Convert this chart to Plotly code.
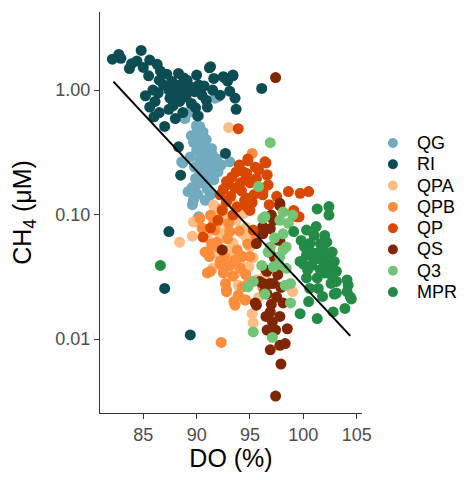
import plotly.graph_objects as go

# ---- data (DO %, CH4 uM) ----
qg_do = [89.5, 88.9, 90.0, 90.3, 89.5, 89.7, 90.2, 90.6, 91.0, 90.0, 91.3, 90.3, 91.6, 91.9, 92.0, 90.6,
         91.0, 89.9, 89.2, 90.0, 91.0, 91.3, 89.7, 88.6, 93.1, 90.6, 89.4, 90.0, 91.7, 92.0, 89.6, 90.2,
         90.0, 88.7, 90.4, 91.2, 90.8, 90.5, 89.8, 90.9, 91.4, 90.1, 90.8, 89.4, 91.6, 92.3, 90.2, 89.9,
         90.4, 91.1, 89.6, 90.7, 91.5]
qg_ch4 = [0.67, 0.59, 0.51, 0.51, 0.43, 0.38, 0.41, 0.36, 0.32, 0.33, 0.28, 0.27, 0.25, 0.28, 0.22, 0.22,
          0.195, 0.195, 0.153, 0.173, 0.16, 0.144, 0.131, 0.265, 0.265, 0.46, 0.68, 0.52, 0.86, 0.88, 0.12, 0.096,
          0.09, 0.26, 0.30, 0.23, 0.25, 0.18, 0.24, 0.40, 0.34, 0.145, 0.13, 0.29, 0.19, 0.25, 0.62, 0.44,
          0.21, 0.21, 0.165, 0.28, 0.30]

ri_do = [82.1, 82.7, 82.9, 83.7, 84.4, 84.8, 85.6, 86.3, 85.5, 86.6, 87.2, 86.5, 85.2, 85.6, 86.1, 86.5,
         86.0, 87.0, 87.5, 88.0, 88.3, 88.4, 88.4, 88.9, 89.2, 89.5, 88.0, 90.0, 90.2, 90.5, 90.9, 91.2,
         91.6, 92.2, 92.6, 86.9, 87.4, 87.7, 89.1, 88.7, 87.4, 91.0, 91.3, 92.5, 93.4, 93.6, 93.7, 96.1,
         93.4, 92.7, 88.3, 88.5, 87.4, 87.0, 89.4, 88.6, 89.0, 89.8, 90.3, 89.6, 88.8, 90.7, 87.8, 89.9,
         90.1, 85.9, 86.4, 87.8, 91.5, 92.9, 93.1, 83.9, 85.0]
ri_ch4 = [1.77, 1.93, 1.80, 1.49, 1.71, 2.08, 1.74, 1.61, 1.30, 1.42, 1.34, 1.20, 0.90, 0.73, 0.81, 0.66,
          0.61, 0.51, 0.86, 1.03, 1.36, 1.10, 0.81, 0.94, 1.10, 0.78, 0.59, 1.32, 1.10, 0.91, 0.83, 1.51,
          1.24, 0.91, 1.26, 1.10, 1.00, 1.17, 1.20, 0.66, 0.70, 0.73, 1.54, 1.28, 1.32, 0.86, 0.70, 1.03,
          1.30, 0.31, 0.35, 0.207, 0.073, 0.0255, 0.0108, 0.95, 0.88, 0.97, 1.00, 1.05, 1.25, 1.08, 0.75, 0.72,
          0.62, 1.00, 0.95, 0.92, 1.00, 1.18, 0.98, 1.63, 1.52]

qpa_do = [88.4, 89.6, 89.7, 93.0, 95.2, 95.3, 99.0, 91.6, 92.8, 93.4, 91.5, 93.3, 92.2, 93.4, 94.1, 95.3,
          92.5, 93.7, 93.4, 93.7, 94.3, 93.4, 95.0, 94.6, 92.0, 94.9, 95.6, 96.4, 92.9, 94.4, 91.0, 95.8,
          93.9, 94.7, 92.1, 93.0, 94.0, 95.1, 91.9, 92.6]
qpa_ch4 = [0.060, 0.067, 0.087, 0.50, 0.016, 0.0135, 0.024, 0.119, 0.064, 0.046, 0.037, 0.033, 0.088, 0.057, 0.047, 0.045,
           0.036, 0.034, 0.123, 0.090, 0.070, 0.059, 0.055, 0.079, 0.105, 0.038, 0.030, 0.032, 0.076, 0.102, 0.065, 0.0215,
           0.027, 0.063, 0.072, 0.052, 0.041, 0.069, 0.049, 0.098]

qpb_do = [92.3, 95.2, 96.6, 90.5, 91.3, 90.8, 91.7, 91.3, 92.5, 92.8, 92.2, 91.1, 93.1, 91.9, 91.2, 92.2,
          93.1, 92.7, 93.4, 94.1, 92.8, 93.9, 94.3, 94.6, 93.6, 95.0, 91.0, 94.3, 94.5, 92.4, 93.8, 94.8,
          92.0, 93.0, 95.6, 94.0, 93.5, 90.3, 92.6, 94.9, 96.2, 91.6, 92.9, 93.6, 94.6, 91.4]
qpb_ch4 = [0.0094, 0.31, 0.21, 0.078, 0.099, 0.050, 0.075, 0.035, 0.034, 0.0248, 0.042, 0.049, 0.073, 0.060, 0.046, 0.040,
           0.039, 0.028, 0.032, 0.037, 0.024, 0.0225, 0.0263, 0.0206, 0.0187, 0.046, 0.034, 0.046, 0.0206, 0.112, 0.052, 0.058,
           0.055, 0.085, 0.065, 0.074, 0.020, 0.093, 0.046, 0.029, 0.026, 0.088, 0.064, 0.043, 0.033, 0.058]

qp_do = [94.7, 94.1, 95.0, 96.4, 96.7, 96.2, 98.6, 99.7, 100.5, 99.4, 95.0, 94.5, 93.9, 96.5, 94.8, 94.8,
         94.4, 92.8, 92.2, 93.6, 95.6, 96.6, 96.2, 94.7, 92.8, 90.6, 91.3, 92.0, 93.4, 94.7, 95.3, 99.1,
         99.6, 93.3, 95.5, 94.0, 95.9, 93.2, 94.2, 95.4, 96.8, 97.5, 93.8, 92.5, 93.0, 94.6, 95.2, 93.7,
         92.4, 95.8]
qp_ch4 = [0.214, 0.18, 0.18, 0.265, 0.173, 0.153, 0.153, 0.148, 0.153, 0.096, 0.108, 0.13, 0.49, 0.26, 0.27, 0.28,
          0.22, 0.184, 0.144, 0.163, 0.195, 0.207, 0.144, 0.135, 0.127, 0.066, 0.078, 0.090, 0.099, 0.116, 0.075, 0.108,
          0.096, 0.20, 0.24, 0.25, 0.16, 0.14, 0.155, 0.145, 0.12, 0.14, 0.115, 0.16, 0.175, 0.19, 0.125, 0.22,
          0.108, 0.23]

qs_do = [97.4, 97.9, 97.4, 92.4, 96.6, 96.2, 96.9, 95.6, 96.6, 97.5, 96.5, 97.1, 97.8, 97.4, 98.5, 96.9,
         97.8, 98.3, 96.6, 96.9, 98.1, 96.9, 96.2, 97.5, 97.2, 97.8, 95.6, 96.5, 97.2, 95.9, 96.4, 95.5,
         97.8, 97.0, 96.2, 97.8, 97.3, 96.8, 97.6, 97.0, 97.9]
qs_ch4 = [0.00348, 0.0063, 1.26, 0.052, 0.035, 0.028, 0.028, 0.0187, 0.023, 0.0218, 0.0152, 0.0138, 0.0152, 0.0118, 0.0121, 0.0082,
          0.0089, 0.0092, 0.0118, 0.0165, 0.0195, 0.077, 0.070, 0.0624, 0.090, 0.118, 0.0585, 0.0358, 0.028, 0.029, 0.024, 0.0195,
          0.123, 0.099, 0.080, 0.062, 0.045, 0.050, 0.033, 0.019, 0.026]

q3_do = [96.9, 95.8, 98.1, 97.8, 99.0, 96.2, 96.9, 98.1, 96.4, 98.1, 98.4, 96.7, 97.8, 97.2, 98.4, 95.3,
         98.3, 96.1, 94.8, 96.4, 98.8, 98.8, 95.3, 97.1, 97.7, 97.3, 98.6]
q3_ch4 = [0.378, 0.168, 0.105, 0.090, 0.099, 0.093, 0.055, 0.052, 0.096, 0.070, 0.055, 0.050, 0.046, 0.038, 0.037, 0.029,
          0.027, 0.039, 0.0263, 0.023, 0.028, 0.0195, 0.0114, 0.0103, 0.040, 0.065, 0.085]

mpr_do = [86.6, 101.3, 102.4, 102.4, 100.3, 99.1, 99.8, 100.6, 101.6, 102.2, 100.3, 101.3, 102.2, 100.0, 100.8, 101.9,
          102.5, 103.1, 100.3, 101.3, 102.0, 101.4, 100.6, 103.1, 104.1, 104.2, 102.9, 104.4, 99.7, 101.3, 99.7, 102.8,
          103.9, 104.5, 103.1, 104.1, 101.0, 101.8, 102.7, 100.9, 101.6, 102.6, 100.1, 101.2, 102.0, 102.9, 101.8, 100.5,
          100.7, 101.5, 102.3, 100.4, 101.9, 102.6]
mpr_ch4 = [0.039, 0.111, 0.116, 0.099, 0.075, 0.073, 0.062, 0.0585, 0.0585, 0.060, 0.0474, 0.049, 0.0474, 0.040, 0.039, 0.042,
           0.039, 0.035, 0.031, 0.031, 0.034, 0.0255, 0.0255, 0.029, 0.0298, 0.027, 0.023, 0.0218, 0.016, 0.0146, 0.042, 0.0165,
           0.0176, 0.021, 0.0234, 0.024, 0.068, 0.052, 0.050, 0.045, 0.036, 0.028, 0.055, 0.080, 0.068, 0.042, 0.022, 0.020,
           0.050, 0.044, 0.037, 0.036, 0.057, 0.033]

fit_do = [82.2, 104.4]
fit_ch4 = [1.17, 0.0106]

sites = ["QG", "RI", "QPA", "QPB", "QP", "QS", "Q3", "MPR"]
colors = ["#72AABE", "#0B4D53", "#FDBE85", "#FD8D3C", "#D94801", "#7F2704", "#74C476", "#238B45"]
xs = [qg_do, ri_do, qpa_do, qpb_do, qp_do, qs_do, q3_do, mpr_do]
ys = [qg_ch4, ri_ch4, qpa_ch4, qpb_ch4, qp_ch4, qs_ch4, q3_ch4, mpr_ch4]

x_ticks = [85, 90, 95, 100, 105]
y_ticks = [0.01, 0.1, 1]
y_ticktext = ["0.01", "0.10", "1.00"]

fig = go.Figure()
for name, col, x, y in zip(sites, colors, xs, ys):
    fig.add_trace(go.Scatter(x=x, y=y, mode="markers", name=name, showlegend=False,
                             marker=dict(color=col, size=11, line=dict(width=0))))
fig.add_trace(go.Scatter(x=fit_do, y=fit_ch4, mode="lines", showlegend=False,
                         line=dict(color="black", width=2)))

# legend (ggplot-style keys) built from the site names and colours
PW, PH = 262.0, 401.0          # plot-area size in px
key_x = 1.118                  # key centre, paper units
text_x = 1.204
top_y = (405 - 135) / PH
step = 21.3 / PH
r_x, r_y = 5 / PW, 5 / PH
for i, (name, col) in enumerate(zip(sites, colors)):
    yc = top_y - i * step
    fig.add_shape(type="circle", xref="paper", yref="paper",
                  x0=key_x - r_x, x1=key_x + r_x, y0=yc - r_y, y1=yc + r_y,
                  fillcolor=col, line=dict(width=0))
    fig.add_annotation(x=text_x, y=yc, xref="paper", yref="paper", text=name,
                       showarrow=False, xanchor="left", yanchor="middle",
                       font=dict(size=18, color="black"))

axis_common = dict(showline=True, linecolor="#333333", linewidth=1, ticks="outside",
                   ticklen=5, tickcolor="#333333", tickwidth=1, showgrid=False, zeroline=False,
                   automargin=False, tickfont=dict(size=18, color="#4D4D4D"))
fig.update_xaxes(range=[80.94, 105.5], tickvals=x_ticks,
                 title=dict(text="DO (%)", font=dict(size=25, color="black"), standoff=16),
                 **axis_common)
fig.update_yaxes(type="log", range=[-2.594, 0.627], tickvals=y_ticks, ticktext=y_ticktext,
                 title=dict(text="CH<sub>4</sub> (μM)", font=dict(size=25, color="black"), standoff=16),
                 **axis_common)
# page body has an 8px default margin, so the figure is sized/offset to compensate
fig.update_layout(width=450, height=464, margin=dict(l=92, r=96, t=4, b=59, autoexpand=False),
                  plot_bgcolor="white", paper_bgcolor="white",
                  font=dict(family="Liberation Sans, Arial, sans-serif"),
                  showlegend=False)
fig.write_html("out.html")
